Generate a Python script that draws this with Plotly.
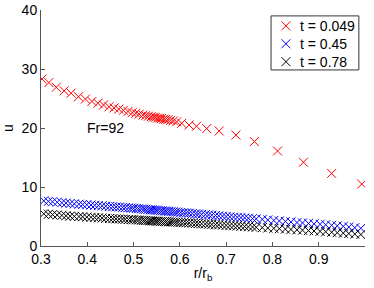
import plotly.graph_objects as go

# Red series, t = 0.049
r_red = [0.302, 0.317, 0.333, 0.350, 0.365, 0.381, 0.396, 0.410, 0.423, 0.435,
         0.447, 0.458, 0.468, 0.478, 0.488, 0.497, 0.505, 0.512, 0.520, 0.526,
         0.532, 0.538, 0.543, 0.547, 0.552, 0.556, 0.560, 0.565, 0.569, 0.574,
         0.580, 0.586, 0.593, 0.604, 0.620, 0.636, 0.658, 0.685, 0.721, 0.761,
         0.811, 0.867, 0.928, 0.993]
u_red = [28.3, 27.7, 26.9, 26.3, 25.9, 25.3, 24.9, 24.5, 24.2, 23.9,
         23.6, 23.4, 23.2, 23.0, 22.8, 22.6, 22.5, 22.35, 22.2, 22.1,
         22.0, 21.9, 21.85, 21.8, 21.7, 21.65, 21.6, 21.5, 21.45, 21.4,
         21.3, 21.2, 21.05, 20.8, 20.5, 20.3, 19.9, 19.5, 18.8, 17.7,
         16.1, 14.2, 12.3, 10.5]

# Blue (t = 0.45) and black (t = 0.78) share a grid
r_grid = [0.306, 0.316, 0.325, 0.335, 0.345, 0.354, 0.363, 0.372, 0.382, 0.390,
          0.399, 0.408, 0.416, 0.424, 0.432, 0.440, 0.448, 0.455, 0.462, 0.469,
          0.476, 0.482, 0.489, 0.495, 0.500, 0.506, 0.511, 0.517, 0.522, 0.526,
          0.531, 0.536, 0.540, 0.545, 0.549, 0.553, 0.558, 0.562, 0.567, 0.571,
          0.576, 0.581, 0.586, 0.591, 0.596, 0.602, 0.608, 0.614, 0.620, 0.627,
          0.634, 0.640, 0.647, 0.655, 0.662, 0.669, 0.677, 0.684, 0.692, 0.700,
          0.708, 0.716, 0.724, 0.732, 0.740, 0.748, 0.757, 0.765, 0.778, 0.790,
          0.803, 0.815, 0.828, 0.840, 0.853, 0.865, 0.878, 0.890, 0.903, 0.915,
          0.928, 0.940, 0.953, 0.965, 0.978, 0.991]
u_blue = [7.65, 7.57, 7.50, 7.42, 7.34, 7.27, 7.20, 7.14, 7.08, 7.04,
          7.00, 6.95, 6.90, 6.86, 6.81, 6.76, 6.71, 6.67, 6.63, 6.59,
          6.54, 6.51, 6.47, 6.43, 6.40, 6.36, 6.32, 6.28, 6.25, 6.22,
          6.18, 6.15, 6.12, 6.09, 6.06, 6.03, 5.99, 5.97, 5.93, 5.90,
          5.87, 5.83, 5.80, 5.76, 5.73, 5.69, 5.64, 5.60, 5.56, 5.51,
          5.46, 5.42, 5.37, 5.32, 5.27, 5.22, 5.16, 5.11, 5.06, 5.00,
          4.95, 4.90, 4.86, 4.81, 4.76, 4.71, 4.65, 4.60, 4.50, 4.42,
          4.33, 4.25, 4.16, 4.07, 3.98, 3.91, 3.83, 3.76, 3.68, 3.60,
          3.50, 3.42, 3.33, 3.21, 3.11, 3.00]
u_black = [5.46, 5.39, 5.32, 5.25, 5.19, 5.12, 5.06, 5.02, 4.99, 4.95,
           4.90, 4.86, 4.82, 4.78, 4.74, 4.70, 4.66, 4.63, 4.60, 4.57,
           4.55, 4.52, 4.49, 4.47, 4.45, 4.42, 4.40, 4.37, 4.34, 4.32,
           4.30, 4.27, 4.25, 4.23, 4.20, 4.19, 4.17, 4.15, 4.13, 4.12,
           4.10, 4.08, 4.06, 4.04, 4.02, 3.99, 3.96, 3.93, 3.90, 3.87,
           3.83, 3.80, 3.77, 3.73, 3.69, 3.66, 3.62, 3.58, 3.54, 3.50,
           3.46, 3.42, 3.38, 3.34, 3.30, 3.26, 3.22, 3.18, 3.11, 3.05,
           2.99, 2.93, 2.86, 2.80, 2.74, 2.68, 2.61, 2.55, 2.48, 2.41,
           2.33, 2.26, 2.18, 2.12, 2.03, 1.95]

series_names = ["t = 0.049", "t = 0.45", "t = 0.78"]
series_colors = ["#ff0000", "#0000ff", "#000000"]
x_ticks = [0.3, 0.4, 0.5, 0.6, 0.7, 0.8, 0.9]
y_ticks = [0, 10, 20, 30, 40]

FONT = "Liberation Sans, Arial, sans-serif"

fig = go.Figure()
for name, xs, ys, col in zip(series_names, [r_red, r_grid, r_grid],
                             [u_red, u_blue, u_black], series_colors):
    fig.add_trace(go.Scatter(
        x=xs, y=ys, mode="markers", name=name, showlegend=False,
        marker=dict(symbol="x-thin", size=9, line=dict(color=col, width=1)),
    ))

# Compact MATLAB-style legend box (keys on an invisible 0..1 overlay axis)
leg_x0, leg_x1, leg_y0, leg_y1 = 0.710, 0.981, 0.746, 0.975
leg_rows = [0.933, 0.857, 0.781]
fig.add_shape(type="rect", xref="paper", yref="paper",
              x0=leg_x0, x1=leg_x1, y0=leg_y0, y1=leg_y1,
              line=dict(color="#333", width=1), fillcolor="white", layer="below")
fig.add_trace(go.Scatter(
    x=[0.756] * 3, y=leg_rows, xaxis="x2", yaxis="y2", mode="markers",
    showlegend=False, hoverinfo="skip",
    marker=dict(symbol="x-thin", size=9,
                line=dict(color=series_colors, width=1)),
))
for name, yy in zip(series_names, leg_rows):
    fig.add_annotation(xref="paper", yref="paper", x=0.793, y=yy, text=name,
                       showarrow=False, xanchor="left", yanchor="middle",
                       font=dict(family=FONT, size=14, color="black"))

fig.add_annotation(x=0.44, y=20, text="Fr=92", showarrow=False,
                   font=dict(family=FONT, size=14, color="black"))

fig.update_layout(
    width=374, height=288,
    margin=dict(l=41, r=9, t=10, b=42, autoexpand=False),
    paper_bgcolor="white", plot_bgcolor="white",
    font=dict(family=FONT, size=14, color="black"),
    showlegend=False,
    xaxis=dict(range=[0.3, 1.0], tickvals=x_ticks, ticktext=[str(v) for v in x_ticks],
               ticks="inside", ticklen=4, tickcolor="#555", showgrid=False,
               showline=True, linecolor="#555", linewidth=1, zeroline=False,
               automargin=False, tickfont=dict(size=14),
               title=dict(text="r/r<sub>b</sub>", standoff=2, font=dict(size=14))),
    yaxis=dict(range=[0, 40], tickvals=y_ticks,
               ticks="inside", ticklen=4, tickcolor="#555", showgrid=False,
               showline=True, linecolor="#555", linewidth=1, zeroline=False,
               automargin=False, tickfont=dict(size=14),
               title=dict(text="u", standoff=4, font=dict(size=14))),
    xaxis2=dict(overlaying="x", range=[0, 1], visible=False),
    yaxis2=dict(overlaying="y", range=[0, 1], visible=False),
)

fig.write_html("out.html", config={"displayModeBar": False},
               post_script="document.body.style.margin='0';")
